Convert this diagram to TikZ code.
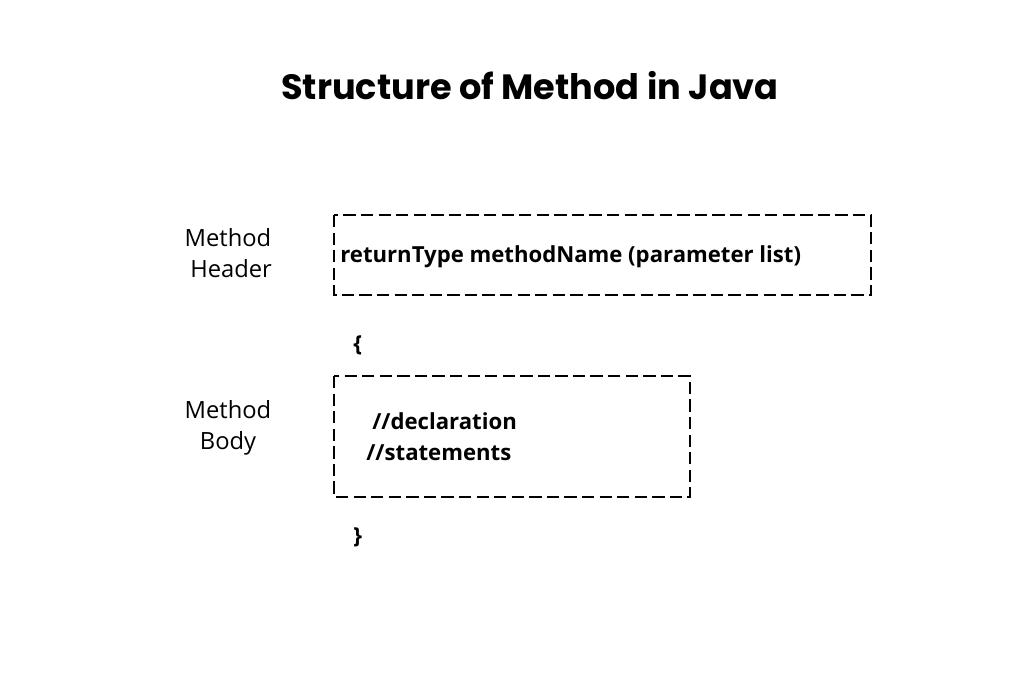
\documentclass[tikz,border=0pt]{standalone}
\usepackage{fontspec}
\setmainfont{Open Sans}
\newfontfamily\titlefont{Poppins}
\usetikzlibrary{positioning}
\tikzset{
    codebox/.style={draw,line width=1.2pt,dash pattern=on 7pt off 3pt},
    codetext/.style={font=\fontsize{12.6}{15}\selectfont\bfseries,anchor=west,inner sep=0pt},
    sidelabel/.style={font=\fontsize{13.5}{17.5}\selectfont,align=center},
}
\begin{document}
\begin{tikzpicture}[x=0.02cm,y=-0.02cm]
\useasboundingbox (0,0) rectangle (1024,683);
% title
\node[font=\titlefont\fontsize{20}{24}\selectfont\bfseries] (title) at (530,86) {Structure of Method in Java};
% header
\draw[codebox] (334,215) rectangle (871,295);
\node[codetext] (header) at (340,257) {returnType methodName (parameter list)};
\node[sidelabel] (headerlbl) at (228,253) {Method\\\ Header};
% braces
\node[codetext] (open) at (353,345) {\{};
\node[codetext] (close) at (353,537) {\}};
% body
\draw[codebox] (334,376) rectangle (690,497);
\node[codetext] (decl) at (372,421) {//declaration};
\node[codetext] (stmt) at (366,453) {//statements};
\node[sidelabel] (bodylbl) at (228,428) {Method\\Body};
\end{tikzpicture}
\end{document}
